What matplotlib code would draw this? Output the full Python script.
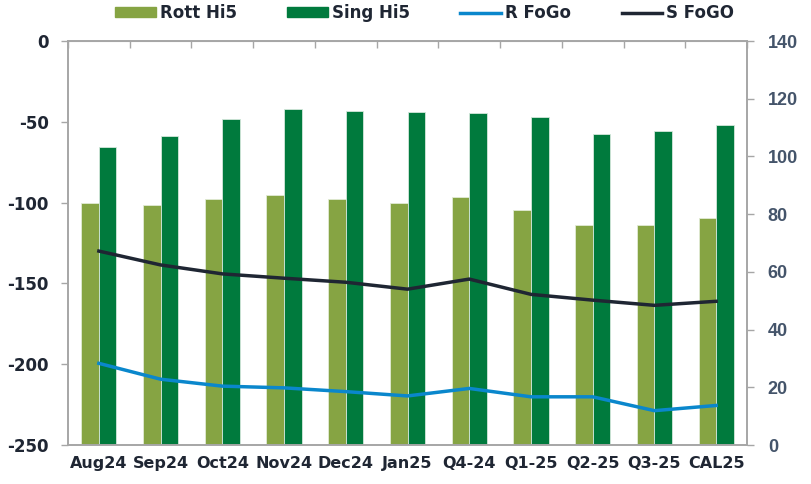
import matplotlib
matplotlib.use("Agg")
import matplotlib.pyplot as plt
import numpy as np
from matplotlib.lines import Line2D
from matplotlib.patches import Patch

categories = ["Aug24", "Sep24", "Oct24", "Nov24", "Dec24", "Jan25",
              "Q4-24", "Q1-25", "Q2-25", "Q3-25", "CAL25"]
rott_hi5 = [-100.2, -101.7, -97.6, -95.3, -97.6, -100.2, -96.5, -104.4, -113.9, -114.1, -109.5]
sing_hi5 = [-65.4, -59.0, -48.3, -42.3, -43.3, -43.9, -44.6, -47.2, -57.5, -55.7, -51.8]
r_fogo = [28.3, 22.8, 20.4, 19.8, 18.5, 17.0, 19.6, 16.7, 16.7, 11.9, 13.7]
s_fogo = [67.2, 62.4, 59.3, 57.8, 56.4, 54.0, 57.5, 52.2, 50.2, 48.4, 49.8]

c_rott = "#86A443"
c_sing = "#007A3D"
c_r = "#0A87CC"
c_s = "#1F2633"
grey = "#A6A6A6"
dark = "#1F2633"
rcol = "#44546A"

fig = plt.figure(figsize=(8.11, 4.84), dpi=100)
ax = fig.add_axes([68/811, 1-445/484, (747-68)/811, (445-41)/484])
x = np.arange(len(categories))
w = 0.285
base = -250
ax.bar(x - w/2, np.array(rott_hi5) - base, bottom=base, width=w, color=c_rott,
       edgecolor="#E2EBD5", linewidth=0.6, zorder=2)
ax.bar(x + w/2, np.array(sing_hi5) - base, bottom=base, width=w, color=c_sing,
       edgecolor="#D5E8DC", linewidth=0.6, zorder=2)
ax.set_ylim(-250, 0)
ax.set_xlim(-0.5, len(categories) - 0.5)
ax.set_yticks(np.arange(-250, 1, 50))
ax.set_yticklabels([str(v) for v in range(-250, 1, 50)], fontsize=12,
                   fontweight="bold", color=dark, family="DejaVu Sans")
ax.set_xticks(x)
ax.set_xticklabels(categories, fontsize=11.5, fontweight="bold", color=dark,
                   family="DejaVu Sans")
ax.tick_params(axis="x", length=0, pad=8)
ax.tick_params(axis="y", direction="out", length=5, color=grey, width=1, pad=9)
for s in ax.spines.values():
    s.set_color(grey)
    s.set_linewidth(1.2)

top = ax.secondary_xaxis("top")
top.set_xticks(np.arange(-0.5, len(categories), 1.0))
top.set_xticklabels([])
top.tick_params(direction="in", length=5, color=grey, width=1)
top.spines["top"].set_color(grey)

ax2 = ax.twinx()
ax2.plot(x, r_fogo, color=c_r, lw=2.5, zorder=3)
ax2.plot(x, s_fogo, color=c_s, lw=2.5, zorder=3)
ax2.set_ylim(0, 140)
ax2.set_yticks(np.arange(0, 141, 20))
ax2.set_yticklabels([str(v) for v in range(0, 141, 20)], fontsize=13,
                    fontweight="bold", color=rcol, family="Liberation Sans")
ax2.tick_params(axis="y", direction="out", length=5, color=grey, width=1, pad=10)
for s in ax2.spines.values():
    s.set_color(grey)
    s.set_linewidth(1.2)

handles = [Patch(color=c_rott), Patch(color=c_sing),
           Line2D([], [], color=c_r, lw=2.5), Line2D([], [], color=c_s, lw=2.5)]
labels = ["Rott Hi5", "Sing Hi5", "R FoGo", "S FoGO"]
fig.legend(handles, labels, loc="center", bbox_to_anchor=(425/811, 1-13/484),
           ncol=4, frameon=False, handlelength=2.45, handleheight=0.55,
           handletextpad=0.25, columnspacing=3.0, borderpad=0, borderaxespad=0,
           prop={"family": "DejaVu Sans", "weight": "bold", "size": 12},
           labelcolor=dark)

fig.savefig("out.png", dpi=100)
